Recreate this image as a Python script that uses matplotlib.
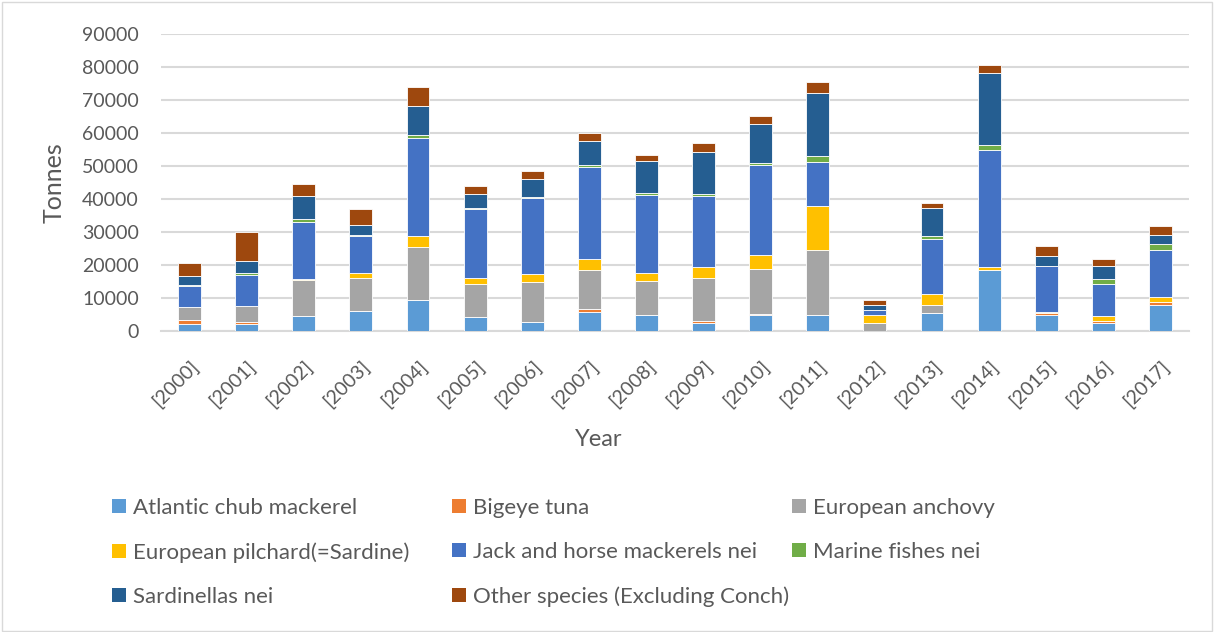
import matplotlib
matplotlib.use("Agg")
import matplotlib.pyplot as plt
from matplotlib.patches import Rectangle, Patch
import numpy as np

years = [str(y) for y in range(2000, 2018)]
tick_labels = ["[" + y + "]" for y in years]

series_names = ["Atlantic chub mackerel", "Bigeye tuna", "European anchovy",
                "European pilchard(=Sardine)", "Jack and horse mackerels nei",
                "Marine fishes nei", "Sardinellas nei", "Other species (Excluding Conch)"]

atlantic = [2000, 2000, 4650, 6000, 9400, 4100, 2600, 5900, 4900, 2500, 4900, 4750, 0, 5450, 18600, 4950, 2300, 7800]
bigeye = [1300, 600, 0, 0, 0, 0, 0, 700, 100, 400, 400, 0, 0, 0, 0, 500, 600, 1000]
anchovy = [4000, 5000, 10900, 10100, 16200, 10200, 12200, 11800, 10100, 13200, 13400, 19700, 2300, 2400, 0, 0, 0, 0]
pilchard = [0, 0, 300, 1400, 3300, 1700, 2400, 3400, 2400, 3200, 4200, 13400, 2500, 3500, 800, 400, 1600, 1400]
jack = [6200, 9400, 17100, 11400, 29700, 20900, 23100, 28000, 23800, 21700, 27300, 13400, 1600, 16500, 35400, 13700, 9800, 14300]
marine = [500, 600, 1100, 200, 900, 300, 400, 400, 400, 600, 700, 1700, 100, 900, 1500, 100, 1400, 1900]
sardinellas = [2600, 3500, 7000, 3000, 8800, 4400, 5400, 7300, 9700, 12700, 11900, 19200, 1300, 8400, 21800, 3200, 4000, 2800]
other = [4100, 9000, 3400, 5000, 5600, 2300, 2500, 2600, 1800, 2700, 2200, 3200, 1600, 1600, 2400, 2800, 2000, 2600]

colors = ["#5B9BD5", "#ED7D31", "#A5A5A5", "#FFC000", "#4472C4", "#70AD47", "#255E91", "#9E480E"]

yticks = list(range(0, 90001, 10000))

plt.rcParams['font.family'] = ['Lato', 'DejaVu Sans']
txt = "#595959"

fig = plt.figure(figsize=(12.15, 6.32), dpi=100)
ax = fig.add_axes([161/1215, 1-331/632, (1189-161)/1215, (331-34)/632])

data = [atlantic, bigeye, anchovy, pilchard, jack, marine, sardinellas, other]
x = np.arange(len(years))
bottom = np.zeros(len(years))
for vals, c, name in zip(data, colors, series_names):
    v = np.array(vals, dtype=float)
    ax.bar(x, v, 0.4, bottom=bottom, color=c, edgecolor="white", linewidth=0.6, label=name, zorder=3)
    bottom += v

ax.set_xlim(-0.5, len(years) - 0.5)
ax.set_ylim(0, 90000)
ax.set_yticks(yticks)
ax.set_yticklabels([str(t) for t in yticks], fontsize=14, color=txt)
ax.grid(axis='y', color="#D9D9D9", linewidth=1.5, zorder=0)
ax.set_axisbelow(True)
for s in ["top", "right", "left"]:
    ax.spines[s].set_visible(False)
ax.spines["bottom"].set_color("#D9D9D9")
ax.spines["bottom"].set_linewidth(1.5)
ax.tick_params(axis='y', length=0, pad=16)
ax.tick_params(axis='x', length=0, pad=19)
ax.set_xticks(x)
ax.set_xticklabels(tick_labels, rotation=45, ha='right', rotation_mode='anchor', fontsize=14, color=txt)
ax.set_ylabel("Tonnes", fontsize=18, color=txt, labelpad=12)
ax.set_xlabel("Year", fontsize=17, color=txt)
ax.xaxis.set_label_coords((599-161)/1028, (331-429)/297)

# legend: three columns, row-major order
col_x = [112, 452, 792]
for ci in range(3):
    idx = [i for i in range(len(series_names)) if i % 3 == ci]
    hs = [Patch(facecolor=colors[i], edgecolor='none') for i in idx]
    ls = [series_names[i] for i in idx]
    fig.legend(hs, ls, loc='upper left', bbox_to_anchor=(col_x[ci]/1215, 1-498/632),
               frameon=False, fontsize=16, labelcolor=txt, handlelength=0.63,
               handleheight=0.63, handletextpad=0.3, labelspacing=1.08, borderpad=0, borderaxespad=0)

fig.patches.append(Rectangle((2/1215, 1/632), 1210/1215, 629/632, transform=fig.transFigure,
                             fill=False, edgecolor="#D9D9D9", linewidth=1))

fig.savefig("out.png", dpi=100)
